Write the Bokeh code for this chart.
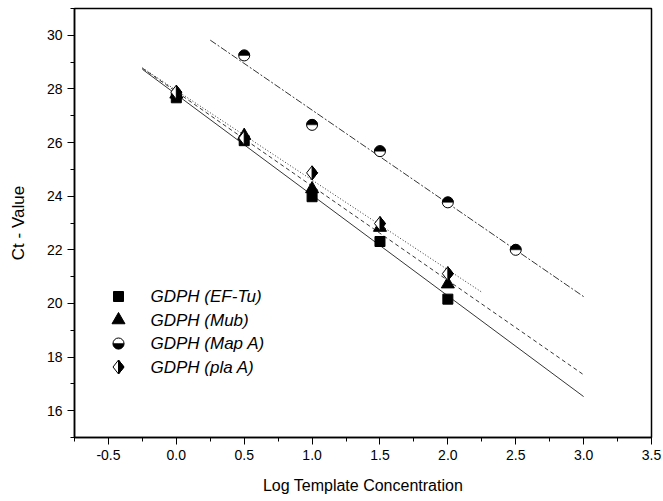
import numpy as np
from bokeh.plotting import figure
from bokeh.models import Range1d, SingleIntervalTicker, NumeralTickFormatter
from bokeh.core.properties import value
from bokeh.embed import file_html
from bokeh.resources import INLINE

# ---- data ----
log_conc = [0.0, 0.5, 1.0, 1.5, 2.0]
ct_eftu = [27.67, 26.07, 23.98, 22.31, 20.16]
ct_mub = [27.80, 26.26, 24.27, 22.83, 20.72]
log_conc_mapa = [0.5, 1.0, 1.5, 2.0, 2.5]
ct_mapa = [29.25, 26.66, 25.68, 23.77, 22.00]
ct_plaa = [27.88, 26.17, 24.87, 22.98, 21.11]

# extent of each regression line (x from, x to)
fit_eftu = [-0.25, 3.0]
fit_mub = [-0.25, 3.0]
fit_mapa = [0.25, 3.0]
fit_plaa = [-0.25, 2.25]

legend_labels = ["GDPH (EF-Tu)", "GDPH (Mub)", "GDPH (Map A)", "GDPH (pla A)"]

X0, X1 = -0.75, 3.5
Y0, Y1 = 15, 31
FW, FH = 577, 429
FONT = "Liberation Sans"

p = figure(width=662, height=500, x_range=Range1d(X0, X1), y_range=Range1d(Y0, Y1),
           min_border_left=74, min_border_right=11, min_border_top=8, min_border_bottom=63,
           output_backend="svg", toolbar_location=None)
p.xgrid.visible = False
p.ygrid.visible = False
p.outline_line_color = "black"
p.outline_line_width = 1.5
p.background_fill_color = "white"
p.border_fill_color = "white"

p.xaxis.ticker = SingleIntervalTicker(interval=0.5, num_minor_ticks=2)
p.xaxis.formatter = NumeralTickFormatter(format="0.0")
p.yaxis.ticker = SingleIntervalTicker(interval=2, num_minor_ticks=2)
for ax in (p.xaxis, p.yaxis):
    ax.axis_line_color = "black"
    ax.axis_line_width = 1.5
    ax.major_tick_line_color = "black"
    ax.minor_tick_line_color = "black"
    ax.major_tick_in = 0
    ax.major_tick_out = 7
    ax.minor_tick_in = 0
    ax.minor_tick_out = 4
    ax.major_label_text_font = FONT
    ax.major_label_text_font_size = "14px"
    ax.major_label_text_color = "black"
    ax.axis_label_text_font = FONT
    ax.axis_label_text_font_style = "normal"
    ax.axis_label_text_color = "black"
    ax.major_label_standoff = 5
p.xaxis.axis_label = "Log Template Concentration"
p.yaxis.axis_label = "Ct - Value"
p.xaxis.axis_label_text_font_size = "16px"
p.yaxis.axis_label_text_font_size = "17px"
p.xaxis.axis_label_standoff = 14
p.yaxis.axis_label_standoff = 16


def fit_line(xs, ys, ext, dash):
    k, b = np.polyfit(xs, ys, 1)
    lx = np.array(ext)
    p.line(lx, k * lx + b, line_color="black", line_width=0.8, line_dash=dash)


fit_line(log_conc, ct_eftu, fit_eftu, "solid")
fit_line(log_conc, ct_mub, fit_mub, "4 3")
fit_line(log_conc_mapa, ct_mapa, fit_mapa, "7 2 2 2")
fit_line(log_conc, ct_plaa, fit_plaa, "1 2")

# pixel scale of the frame (for screen-sized half-diamonds)
sx = FW / (X1 - X0)
sy = FH / (Y1 - Y0)
DW, DH = 5.5, 7.0


def diamond_patches(xs, ys, xr, yr):
    full_x = [[x, x + xr, x, x - xr] for x in xs]
    full_y = [[y + yr, y, y - yr, y] for y in ys]
    half_x = [[x, x + xr, x] for x in xs]
    half_y = [[y + yr, y, y - yr] for y in ys]
    return full_x, full_y, half_x, half_y


# markers
p.scatter(log_conc, ct_eftu, marker="square", size=10, fill_color="black", line_color="black")
p.scatter(log_conc, ct_mub, marker="triangle", size=13, fill_color="black", line_color="black")
p.scatter(log_conc_mapa, ct_mapa, marker="circle", size=11, fill_color="white", line_color="black", line_width=1)
p.wedge(log_conc_mapa, ct_mapa, radius=5.5, radius_units="screen", start_angle=0, end_angle=np.pi,
        fill_color="black", line_color="black", line_width=0.5)
fx, fy, hx, hy = diamond_patches(log_conc, ct_plaa, DW / sx, DH / sy)
p.patches(fx, fy, fill_color="white", line_color="black", line_width=1)
p.patches(hx, hy, fill_color="black", line_color="black", line_width=1)

# ---- legend, in frame pixel coordinates ----
p.extra_x_ranges = {"px": Range1d(0, FW)}
p.extra_y_ranges = {"py": Range1d(FH, 0)}
mx = 44
tx = 76
rows = [288, 311.5, 335, 358.5]
kw = dict(x_range_name="px", y_range_name="py")
p.scatter([mx], [rows[0]], marker="square", size=10, fill_color="black", line_color="black", **kw)
p.scatter([mx], [rows[1]], marker="triangle", size=13, fill_color="black", line_color="black", **kw)
p.scatter([mx], [rows[2]], marker="circle", size=11, fill_color="white", line_color="black", line_width=1, **kw)
p.wedge([mx], [rows[2]], radius=5.5, radius_units="screen", start_angle=np.pi, end_angle=2 * np.pi,
        fill_color="black", line_color="black", line_width=0.5, **kw)
lfx, lfy, lhx, lhy = diamond_patches([mx], [rows[3]], DW, -DH)
p.patches(lfx, lfy, fill_color="white", line_color="black", line_width=1, **kw)
p.patches(lhx, lhy, fill_color="black", line_color="black", line_width=1, **kw)
p.text([tx] * 4, rows, text=legend_labels, text_font=value(FONT), text_font_style="italic",
       text_font_size="17px", text_baseline="middle", text_align="left", text_color="black", **kw)

open("out.html", "w").write(file_html(p, INLINE))
